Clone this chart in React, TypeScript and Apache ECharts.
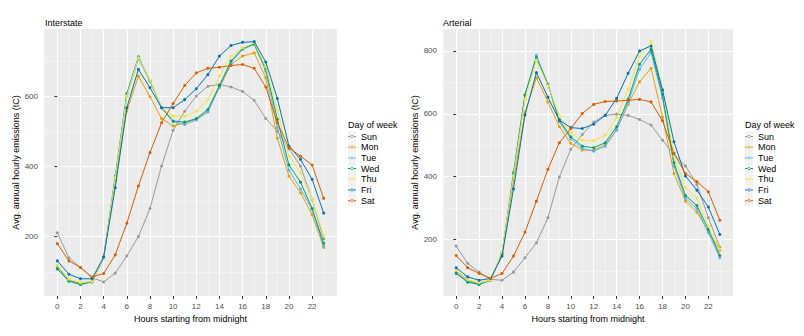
import React, { useEffect, useRef } from "react";
import * as echarts from "echarts";

const hours: number[] = Array.from({ length: 24 }, (_, i) => i);
const days = ["Sun", "Mon", "Tue", "Wed", "Thu", "Fri", "Sat"];
const dayColors = ["#999999", "#E69F00", "#56B4E9", "#009E73", "#F0E442", "#0072B2", "#D55E00"];

const xMajorTicks = [0, 2, 4, 6, 8, 10, 12, 14, 16, 18, 20, 22];
const xMinorTicks = [-1, 1, 3, 5, 7, 9, 11, 13, 15, 17, 19, 21, 23];
const interstateYTicks = [200, 400, 600];
const interstateYMinor = [100, 300, 500, 700];
const arterialYTicks = [200, 400, 600, 800];
const arterialYMinor = [100, 300, 500, 700];

const interstateSun = [211, 140, 112, 83, 71, 96, 145, 200, 280, 401, 503, 557, 600, 628, 633, 626, 613, 588, 536, 500, 450, 401, 306, 194];
const interstateMon = [115, 76, 67, 72, 140, 358, 557, 657, 598, 536, 515, 524, 534, 557, 624, 690, 714, 723, 652, 480, 372, 325, 263, 169];
const interstateTue = [112, 75, 65, 71, 140, 365, 600, 706, 643, 567, 527, 519, 532, 555, 627, 695, 733, 747, 671, 510, 389, 336, 278, 173];
const interstateWed = [108, 73, 64, 71, 140, 372, 607, 712, 643, 567, 529, 526, 536, 562, 630, 700, 735, 749, 678, 534, 404, 355, 280, 181];
const interstateThu = [119, 79, 69, 72, 140, 368, 600, 709, 645, 567, 543, 543, 557, 589, 657, 714, 737, 752, 683, 560, 429, 382, 308, 202];
const interstateFri = [131, 93, 80, 80, 142, 339, 567, 676, 624, 567, 567, 590, 621, 661, 714, 744, 753, 755, 697, 593, 458, 420, 363, 267];
const interstateSat = [180, 131, 112, 85, 95, 148, 238, 344, 439, 524, 579, 630, 666, 679, 682, 687, 690, 679, 626, 524, 453, 429, 404, 309];

const arterialSun = [179, 124, 96, 73, 70, 96, 142, 189, 269, 399, 487, 534, 574, 595, 599, 595, 582, 564, 516, 471, 434, 375, 269, 175];
const arterialMon = [99, 70, 60, 70, 155, 386, 604, 715, 638, 559, 506, 485, 484, 501, 550, 630, 702, 745, 590, 410, 322, 287, 225, 166];
const arterialTue = [94, 67, 57, 70, 155, 405, 660, 786, 694, 575, 520, 490, 481, 497, 548, 635, 742, 795, 650, 434, 331, 298, 221, 142];
const arterialWed = [92, 64, 57, 70, 155, 412, 660, 779, 694, 580, 527, 497, 492, 508, 559, 646, 758, 805, 662, 444, 340, 308, 232, 149];
const arterialThu = [102, 72, 62, 70, 161, 402, 646, 771, 690, 593, 540, 516, 514, 532, 588, 678, 784, 830, 680, 465, 365, 331, 242, 170];
const arterialFri = [110, 81, 70, 76, 147, 361, 596, 731, 653, 580, 556, 553, 567, 595, 649, 729, 800, 816, 676, 511, 402, 357, 303, 216];
const arterialSat = [149, 110, 92, 76, 92, 147, 223, 322, 423, 508, 553, 601, 630, 639, 641, 643, 646, 638, 578, 474, 410, 384, 352, 261];

const interstateSeries = [interstateSun, interstateMon, interstateTue, interstateWed, interstateThu, interstateFri, interstateSat];
const arterialSeries = [arterialSun, arterialMon, arterialTue, arterialWed, arterialThu, arterialFri, arterialSat];

const FONT = "Liberation Sans, Arial, Helvetica, sans-serif";

export default function App() {
  const ref = useRef<HTMLDivElement>(null);
  useEffect(() => {
    document.body.style.margin = "0";
    if (!ref.current) return;
    const chart = echarts.init(ref.current, undefined, { renderer: "svg" });

    const grids = [
      { left: 44, top: 29, width: 293, height: 267 },
      { left: 443, top: 29, width: 290, height: 267 },
    ];
    const xRange = { min: -1.15, max: 24.15 };
    const yRanges = [
      { min: 31, max: 791 },
      { min: 20, max: 870 },
    ];

    const tickLabel = { fontSize: 8, color: "#4D4D4D", fontFamily: FONT };
    const xAxes: any[] = [];
    const yAxes: any[] = [];
    [0, 1].forEach((g) => {
      xAxes.push({
        type: "value",
        gridIndex: g,
        ...xRange,
        name: "Hours starting from midnight",
        nameLocation: "middle",
        nameGap: 16,
        nameTextStyle: { fontSize: 9, color: "#000", fontFamily: FONT },
        axisLine: { show: false },
        axisTick: { show: true, length: 3, lineStyle: { color: "#333", width: 1 }, customValues: xMajorTicks },
        axisLabel: { ...tickLabel, margin: 6, customValues: xMajorTicks },
        splitLine: { show: true, lineStyle: { color: "#FFFFFF", width: 1 } },
      });
      xAxes.push({
        type: "value",
        gridIndex: g,
        ...xRange,
        axisLine: { show: false },
        axisTick: { show: false, customValues: xMinorTicks },
        axisLabel: { show: false, customValues: xMinorTicks },
        splitLine: { show: true, lineStyle: { color: "#F7F7F7", width: 0.6 } },
      });
      const major = g === 0 ? interstateYTicks : arterialYTicks;
      const minor = g === 0 ? interstateYMinor : arterialYMinor;
      yAxes.push({
        type: "value",
        gridIndex: g,
        ...yRanges[g],
        position: "left",
        name: "Avg. annual hourly emissions (tC)",
        nameLocation: "middle",
        nameGap: 22,
        nameRotate: 90,
        nameTextStyle: { fontSize: 9, color: "#000", fontFamily: FONT },
        axisLine: { show: false },
        axisTick: { show: true, length: 3, lineStyle: { color: "#333", width: 1 }, customValues: major },
        axisLabel: { ...tickLabel, margin: 6, customValues: major },
        splitLine: { show: true, lineStyle: { color: "#FFFFFF", width: 1 } },
      });
      yAxes.push({
        type: "value",
        gridIndex: g,
        ...yRanges[g],
        position: "left",
        axisLine: { show: false },
        axisTick: { show: false, customValues: minor },
        axisLabel: { show: false, customValues: minor },
        splitLine: { show: true, lineStyle: { color: "#F7F7F7", width: 0.6 } },
      });
    });

    const series: any[] = [];
    [interstateSeries, arterialSeries].forEach((set, g) => {
      set.forEach((vals, i) => {
        series.push({
          type: "line",
          name: days[i],
          xAxisIndex: g * 2,
          yAxisIndex: g * 2,
          data: hours.map((h, k) => [h, vals[k]]),
          symbol: "circle",
          symbolSize: 3,
          showSymbol: true,
          color: dayColors[i],
          lineStyle: { width: 1, color: dayColors[i] },
          itemStyle: { color: dayColors[i] },
          emphasis: { disabled: true },
          z: 3 + i,
        });
      });
    });

    const legendIcon = "path://M0,1L8,1L8,2L0,2Z M2.6,1.5a1.4,1.4 0 1,0 2.8,0a1.4,1.4 0 1,0 -2.8,0";
    const legendBase = {
      orient: "vertical",
      top: 132,
      itemWidth: 8,
      itemHeight: 3,
      itemGap: 1.7,
      icon: legendIcon,
      padding: 0,
      selectedMode: false,
      textStyle: { fontSize: 9, color: "#000", fontFamily: FONT },
      data: days,
    };

    chart.setOption({
      animation: false,
      backgroundColor: "#FFFFFF",
      textStyle: { fontFamily: FONT },
      title: [
        { text: "Interstate", left: 45, top: 18, padding: 0, textStyle: { fontSize: 9, fontWeight: "normal", color: "#000", fontFamily: FONT } },
        { text: "Arterial", left: 443, top: 18, padding: 0, textStyle: { fontSize: 9, fontWeight: "normal", color: "#000", fontFamily: FONT } },
      ],
      grid: grids.map((g) => ({ ...g, backgroundColor: "#EBEBEB", show: true, borderWidth: 0 })),
      xAxis: xAxes,
      yAxis: yAxes,
      legend: [
        { ...legendBase, left: 348 },
        { ...legendBase, left: 745 },
      ],
      graphic: [
        { type: "rect", left: 348, top: 131.5, shape: { width: 8, height: 75 }, style: { fill: "#F2F2F2" }, z: -1 },
        { type: "rect", left: 745, top: 131.5, shape: { width: 8, height: 75 }, style: { fill: "#F2F2F2" }, z: -1 },
        { type: "text", left: 348, top: 120.5, style: { text: "Day of week", fontSize: 9, fill: "#000", fontFamily: FONT } },
        { type: "text", left: 745, top: 120.5, style: { text: "Day of week", fontSize: 9, fill: "#000", fontFamily: FONT } },
      ],
      series,
    });
    return () => chart.dispose();
  }, []);
  return <div ref={ref} style={{ width: 804, height: 336 }} />;
}
